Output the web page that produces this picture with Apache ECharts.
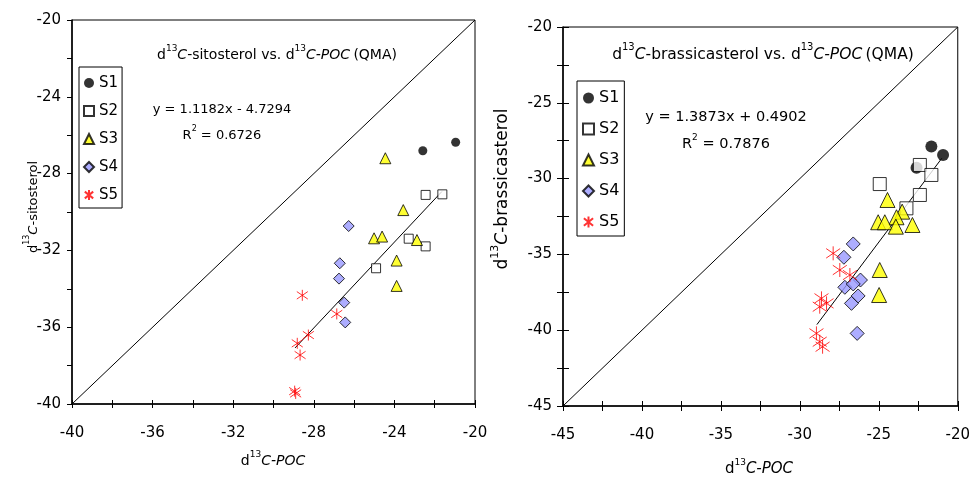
<!DOCTYPE html>
<html>
<head>
<meta charset="utf-8">
<script src="https://cdn.jsdelivr.net/npm/echarts@6/dist/echarts.min.js"></script>
<style>
html,body{margin:0;padding:0;background:#fff;}
#c{width:973px;height:477px;}
</style>
</head>
<body>
<div id="c"></div>
<script>
// ---------- Data ----------
// Left panel: d13C-sitosterol vs d13C-POC
var L_S1 = [[-22.59,-26.81],[-20.96,-26.37]];
var L_S2 = [[-22.45,-29.11],[-21.62,-29.08],[-23.29,-31.39],[-22.45,-31.79],[-24.91,-32.93]];
var L_S3 = [[-24.45,-27.20],[-23.56,-29.90],[-25.01,-31.37],[-24.61,-31.28],[-22.88,-31.46],[-23.89,-32.53],[-23.89,-33.85]];
var L_S4 = [[-26.27,-30.73],[-26.71,-32.67],[-26.75,-33.47],[-26.49,-34.72],[-26.44,-35.75]];
var L_S5 = [[-28.57,-34.34],[-26.86,-35.31],[-28.27,-36.41],[-28.82,-36.84],[-28.68,-37.45],[-28.95,-39.33],[-28.90,-39.45]];
var L_trend = [[-28.93,-37.08],[-21.64,-28.93]];
var L_oneToOne = [[-40,-40],[-20,-20]];

// Right panel: d13C-brassicasterol vs d13C-POC
var R_S1 = [[-21.67,-27.89],[-20.93,-28.44],[-22.61,-29.28]];
var R_S2 = [[-22.40,-29.10],[-21.67,-29.76],[-24.94,-30.36],[-22.40,-31.08],[-23.25,-31.96]];
var R_S3 = [[-24.45,-31.41],[-23.52,-32.18],[-23.88,-32.55],[-25.04,-32.88],[-24.62,-32.88],[-23.92,-33.17],[-22.87,-33.06],[-24.94,-36.03],[-24.98,-37.68]];
var R_S4 = [[-26.62,-34.31],[-27.21,-35.19],[-26.16,-36.69],[-27.15,-37.17],[-26.62,-36.95],[-26.31,-37.74],[-26.73,-38.23],[-26.37,-40.21]];
var R_S5 = [[-27.89,-34.93],[-27.47,-36.03],[-26.83,-36.36],[-28.63,-37.90],[-28.31,-38.23],[-28.74,-38.45],[-28.95,-40.21],[-28.74,-40.76],[-28.56,-41.09]];
var R_trend = [[-28.92,-39.63],[-21.01,-28.66]];
var R_oneToOne = [[-45,-45],[-20,-20]];

var seriesNames = ['S1','S2','S3','S4','S5'];
var leftTicks = {min:-40, max:-20, step:2, labelStep:4};
var rightTicks = {min:-45, max:-20, step:2.5, labelStep:5};

// ---------- Styles ----------
var ASTER = 'path://M5 0 L5 10 M0.8 1.6 L9.2 8.4 M0.8 8.4 L9.2 1.6';
var styles = {
  S1:{symbol:'circle', itemStyle:{color:'#000000', borderColor:'#000', borderWidth:0}},
  S2:{symbol:'rect', itemStyle:{color:'#ffffff', borderColor:'#000', borderWidth:1}},
  S3:{symbol:'triangle', itemStyle:{color:'#ffff00', borderColor:'#000', borderWidth:1}},
  S4:{symbol:'diamond', itemStyle:{color:'#9999ff', borderColor:'#000', borderWidth:1}},
  S5:{symbol:ASTER, itemStyle:{color:'#ff0000', borderColor:'#ff0000', borderWidth:1}}
};
var sizesL = {S1:9, S2:9, S3:11, S4:11, S5:11};
var sizesR = {S1:12, S2:13, S3:15, S4:14, S5:14};

var TICKFONT = 'DejaVu Sans';
var TXTFONT = 'DejaVu Sans';

function labelFmt(step){
  return function(v){ return (Math.abs(Math.round(v*100)) % Math.round(step*100) === 0) ? String(v) : ''; };
}

function mainAxes(gi, t, tickLenX, tickLenY){
  var x = {type:'value', gridIndex:gi, min:t.min, max:t.max, interval:t.step,
    axisLine:{show:true, onZero:false, lineStyle:{color:'#000', width:1.5}},
    axisTick:{show:true, inside:false, length:tickLenX, lineStyle:{color:'#000', width:1}},
    axisLabel:{formatter:labelFmt(t.labelStep), color:'#000', fontFamily:TICKFONT, fontSize:15, margin:22, showMaxLabel:true, showMinLabel:true},
    splitLine:{show:false}};
  var y = {type:'value', gridIndex:gi, min:t.min, max:t.max, interval:t.step,
    axisLine:{show:true, onZero:false, lineStyle:{color:'#000', width:1.5}},
    axisTick:{show:true, inside:false, length:tickLenY, lineStyle:{color:'#000', width:1}},
    axisLabel:{formatter:labelFmt(t.labelStep), color:'#000', fontFamily:TICKFONT, fontSize:15, margin:11, showMaxLabel:true, showMinLabel:true},
    splitLine:{show:false}};
  return [x,y];
}
function innerAxis(gi, t, len, kind){
  return {type:'value', gridIndex:gi, min:t.min, max:t.max, interval:t.step,
    position: kind==='x' ? 'bottom' : 'left',
    axisLine:{show:false, onZero:false},
    axisTick:{show:true, inside:true, length:len, lineStyle:{color:'#000', width:1}},
    axisLabel:{show:false}, splitLine:{show:false}};
}

var la = mainAxes(0, leftTicks, 4, 5);
var ra = mainAxes(1, rightTicks, 5, 6);
var xAxes = [la[0], ra[0], innerAxis(0, leftTicks, 4, 'x'), innerAxis(1, rightTicks, 5, 'x')];
var yAxes = [la[1], ra[1], innerAxis(1, rightTicks, 6, 'y')];

var series = [];
function addScatter(name, data, gi, xi, yi, size){
  var st = styles[name];
  series.push({name:name, type:'scatter', xAxisIndex:xi, yAxisIndex:yi, data:data,
    symbol:st.symbol, symbolSize:size, itemStyle:st.itemStyle, z:3, animation:false});
}
function addLine(data, xi, yi){
  series.push({type:'line', xAxisIndex:xi, yAxisIndex:yi, data:data, symbol:'none',
    lineStyle:{color:'#000', width:1}, z:2, animation:false, silent:true});
}
addLine(L_oneToOne, 0, 0);
addLine(L_trend, 0, 0);
addLine(R_oneToOne, 1, 1);
addLine(R_trend, 1, 1);
var Ldata = {S1:L_S1,S2:L_S2,S3:L_S3,S4:L_S4,S5:L_S5};
var Rdata = {S1:R_S1,S2:R_S2,S3:R_S3,S4:R_S4,S5:R_S5};
seriesNames.forEach(function(n){ addScatter(n, Ldata[n], 0, 0, 0, sizesL[n]); });
seriesNames.forEach(function(n){ addScatter(n, Rdata[n], 1, 1, 1, sizesR[n]); });

var richBase = {
  n:{fontFamily:TXTFONT, fontSize:13, color:'#000', lineHeight:18, verticalAlign:'bottom'},
  i:{fontFamily:TXTFONT, fontSize:13, fontStyle:'italic', color:'#000', lineHeight:18, verticalAlign:'bottom'},
  s:{fontFamily:TXTFONT, fontSize:8, color:'#000', lineHeight:18, verticalAlign:'top', padding:[1,0,0,0]}
};
function txt(x, y, text, rot, size){
  var rich = JSON.parse(JSON.stringify(richBase));
  if(size){
    var lh = Math.round(size*1.35);
    rich.n.fontSize=size; rich.i.fontSize=size; rich.s.fontSize=Math.round(size*0.62);
    rich.n.lineHeight=lh; rich.i.lineHeight=lh; rich.s.lineHeight=lh;
  }
  return {type:'text', x:x, y:y, rotation:rot||0, z:10,
    style:{text:text, rich:rich, align:'center', verticalAlign:'middle', fill:'#000'}};
}

var graphics = [
  txt(277, 53, '{n|d}{s|13}{i|C}{n|-sitosterol vs. d}{s|13}{i|C-POC} {n|(QMA)}', 0, 14),
  txt(763, 52, '{n|d}{s|13}{i|C}{n|-brassicasterol vs. d}{s|13}{i|C-POC} {n|(QMA)}', 0, 15.5),
  txt(222, 107, '{n|y = 1.1182x - 4.7294}'),
  txt(222, 133, '{n|R}{s|2}{n| = 0.6726}'),
  txt(726, 115, '{n|y = 1.3873x + 0.4902}', 0, 14.5),
  txt(726, 142, '{n|R}{s|2}{n| = 0.7876}', 0, 14.5),
  txt(273, 459, '{n|d}{s|13}{i|C-POC}', 0, 14),
  txt(759, 467, '{n|d}{s|13}{i|C-POC}', 0, 15),
  txt(31, 207, '{n|d}{s|13}{i|C}{n|-sitosterol}', Math.PI/2, 13),
  txt(500, 189, '{n|d}{s|13}{i|C}{n|-brassicasterol}', Math.PI/2, 17)
];

var chart = echarts.init(document.getElementById('c'), null, {renderer:'canvas'});
chart.setOption({
  backgroundColor:'#ffffff',
  animation:false,
  grid:[
    {left:72, top:20, width:403, height:384, show:true, borderColor:'#000', borderWidth:1, backgroundColor:'transparent'},
    {left:563, top:27, width:395, height:379, show:true, borderColor:'#000', borderWidth:1, backgroundColor:'transparent'}
  ],
  xAxis:xAxes,
  yAxis:yAxes,
  legend:[
    {data:seriesNames, orient:'vertical', left:79, top:67, selectedMode:false,
     itemWidth:10, itemHeight:10, itemGap:12, padding:[8,4,5,4],
     borderColor:'#000', borderWidth:1, backgroundColor:'#fff',
     textStyle:{fontFamily:TXTFONT, fontSize:15, color:'#000', lineHeight:16}},
    {data:seriesNames, orient:'vertical', left:577, top:81, selectedMode:false,
     itemWidth:11, itemHeight:11, itemGap:15, padding:[9,5,6,5],
     borderColor:'#000', borderWidth:1, backgroundColor:'#fff',
     textStyle:{fontFamily:TXTFONT, fontSize:16, color:'#000', lineHeight:16}}
  ],
  graphic:graphics,
  series:series
});
</script>
</body>
</html>
